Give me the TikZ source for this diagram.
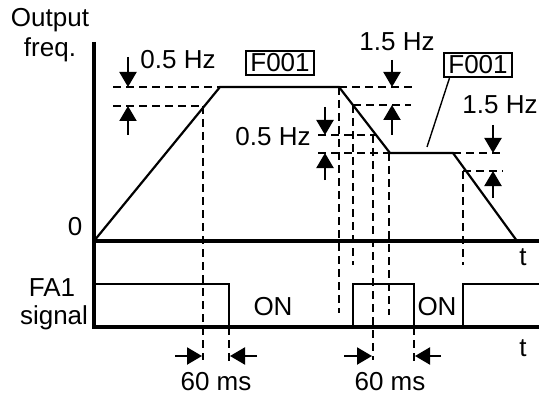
\documentclass[tikz,border=0pt]{standalone}
\usepackage{fontspec}
\setmainfont{Liberation Sans}
\usetikzlibrary{arrows.meta}
\tikzset{
  dsh/.style={line width=2.5pt,dash pattern=on 8pt off 5pt},
  fbox/.style={draw,line width=1.8pt,inner xsep=4pt,inner ysep=3pt},
}
\begin{document}
\begin{tikzpicture}[x=1pt,y=-1pt,line cap=butt,line join=miter,line width=2.2pt,
    >={Triangle[width=17pt,length=15pt]},font=\fontsize{26}{30}\selectfont]
    \useasboundingbox (0,0) rectangle (539,396);
    % axes
    \draw[line width=3.5pt] (94,42)--(94,327)--(539,327);
    \draw[line width=3.5pt] (94,241)--(539,241);
    \node (out) at (50,20) {Output};
    \node (freq) at (50,50) {freq.};
    \node (zero) at (75,227) {0};
    \node (fa) at (52,288) {FA1};
    \node (sig) at (54,318) {signal};
    \node (t1) at (523,257) {t};
    \node (t2) at (523,348) {t};
    % output frequency
    \draw (94,241)--(220,87)--(339,87)--(390,153)--(453,153)--(517,241);
    % acceleration, 0.5 Hz
    \draw[dsh] (113,87)--(220,87);
    \draw[dsh] (113,106)--(205,106);
    \draw[dsh] (203,106)--(203,360);
    \draw[->] (128,57)--(128,87);
    \draw[->] (128,135)--(128,106);
    \node (hza) at (178,60) {0.5 Hz};
    \node[fbox] (boxa) at (280,63) {F001};
    % deceleration, 1.5 Hz
    \draw[dsh] (339,87)--(413,87);
    \draw[dsh] (353,105)--(411,105);
    \draw[dsh] (339,87)--(339,313);
    \draw[dsh] (353,105)--(353,265);
    \draw[->] (392,60)--(392,87);
    \draw[->] (392,135)--(392,105);
    \node (hzb) at (397,42) {1.5 Hz};
    % deceleration, 0.5 Hz
    \draw[dsh] (318,135)--(376,135);
    \draw[dsh] (318,153)--(390,153);
    \draw[dsh] (373,135)--(373,360);
    \draw[dsh] (389,153)--(389,315);
    \draw[->] (325,107)--(325,135);
    \draw[->] (325,180)--(325,153);
    \node (hzc) at (273,137) {0.5 Hz};
    \node[fbox] (boxb) at (478,65) {F001};
    \coordinate (lead) at (427,147);
    \draw[line width=1.4pt] ([xshift=6pt]boxb.south west)--(lead);
    % second deceleration, 1.5 Hz
    \draw[dsh] (453,153)--(503,153);
    \draw[dsh] (463,171)--(503,171);
    \draw[dsh] (463,171)--(463,265);
    \draw[->] (493,125)--(493,153);
    \draw[->] (493,198)--(493,171);
    \node (hzd) at (500,105) {1.5 Hz};
    % FA1 signal
    \draw (94,284)--(229,284)--(229,327);
    \draw (353,327)--(353,284)--(414,284)--(414,327);
    \draw (463,327)--(463,284)--(539,284);
    \node (ona) at (273,307) {ON};
    \node (onb) at (437,307) {ON};
    % 60 ms delays
    \draw[dsh] (229,327)--(229,362);
    \draw[dsh] (414,327)--(414,362);
    \draw[->] (175,356)--(202,356);
    \draw[->] (257,356)--(230,356);
    \draw[->] (344,356)--(372,356);
    \draw[->] (441,356)--(415,356);
    \node (msa) at (216,382) {60 ms};
    \node (msb) at (390,382) {60 ms};
\end{tikzpicture}
\end{document}
